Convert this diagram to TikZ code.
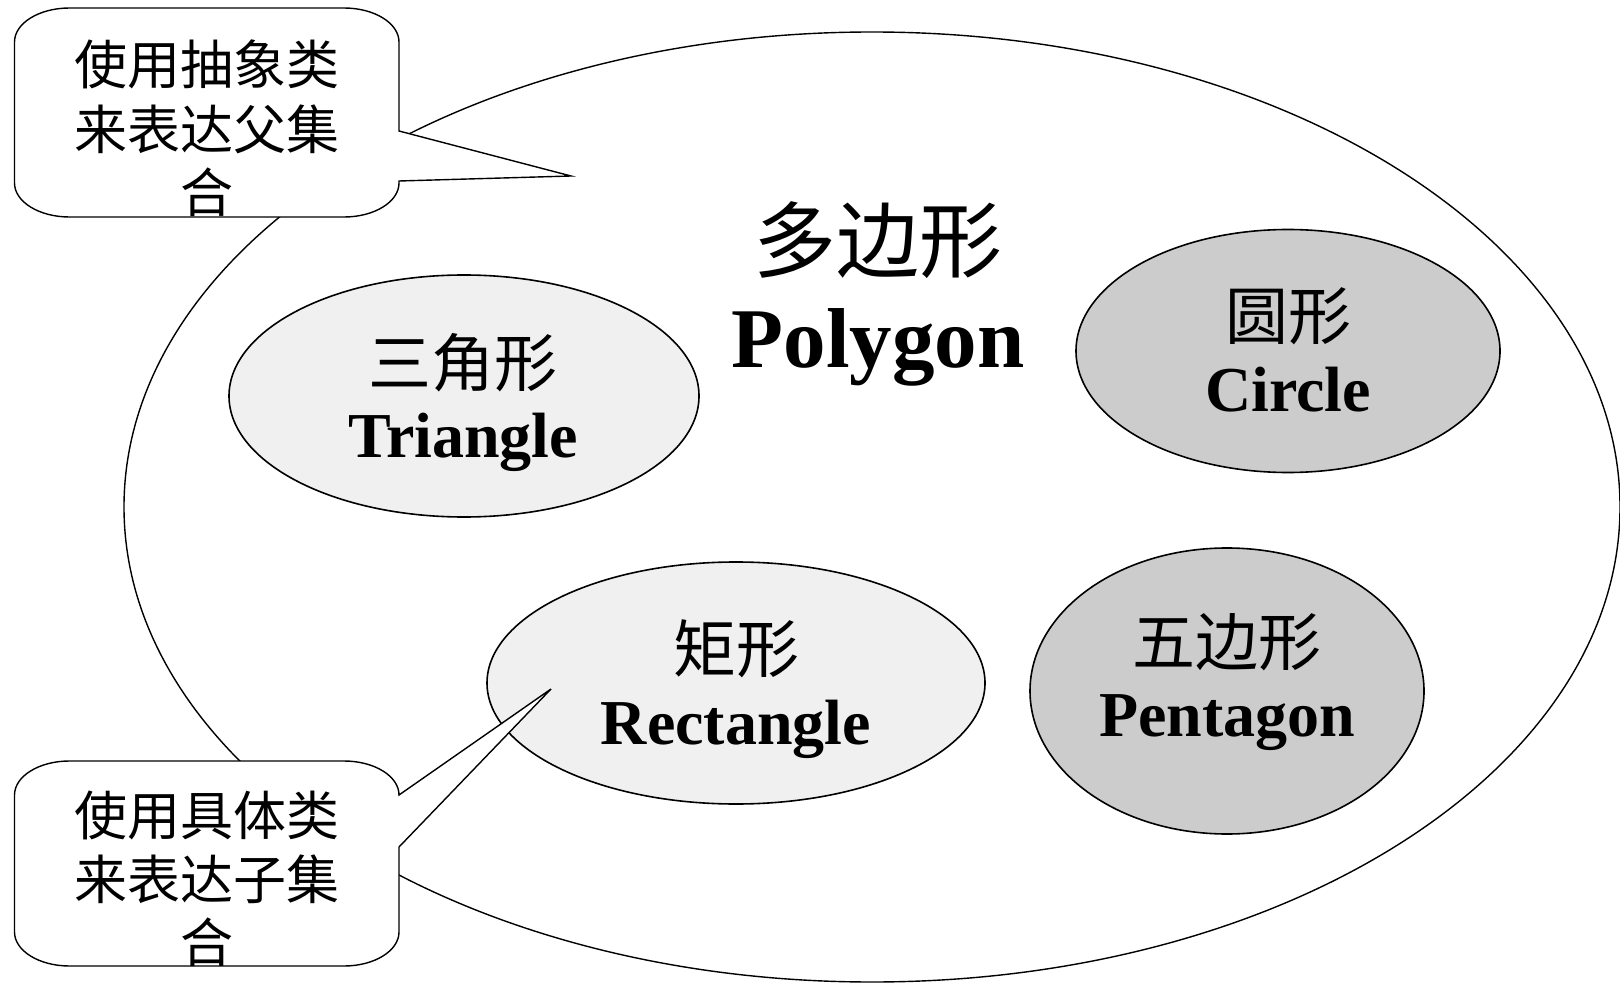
\documentclass[tikz,border=0pt]{standalone}
\usepackage{fontspec}
\setmainfont{Liberation Serif}
\newfontfamily\cjk{Noto Sans CJK SC}
\definecolor{lightfill}{RGB}{240,240,240}
\definecolor{darkfill}{RGB}{204,204,204}
\begin{document}
\begin{tikzpicture}[x=1pt,y=-1pt,
  outer/.style={draw,line width=1.4pt},
  classell/.style={draw,line width=1.6pt},
  cjklabel/.style={inner sep=0pt,anchor=center,font=\cjk\fontsize{63}{63}\selectfont},
  latlabel/.style={inner sep=0pt,anchor=base,font=\bfseries\fontsize{64}{64}\selectfont},
  calltext/.style={inner sep=0pt,anchor=center,font=\cjk\fontsize{53}{53}\selectfont},
  callbox/.style={draw,fill=white,line width=1.4pt,line join=miter}]
\useasboundingbox (0,0) rectangle (1620,984);
% big polygon set
\draw[outer] (872,507) ellipse [x radius=748, y radius=475];
% class ellipses
\draw[classell,fill=lightfill] (464,396) ellipse [x radius=235, y radius=121];
\draw[classell,fill=darkfill] (1288,351) ellipse [x radius=212, y radius=121.5];
\draw[classell,fill=lightfill] (736,683) ellipse [x radius=249, y radius=121];
\draw[classell,fill=darkfill] (1227,691) ellipse [x radius=197, y radius=143];
% texts
\node[inner sep=0pt,anchor=center,font=\cjk\fontsize{83}{83}\selectfont] (polyzh) at (878,240) {多边形};
\node[inner sep=0pt,anchor=base,font=\bfseries\fontsize{85}{85}\selectfont] (polyen) at (878,367) {Polygon};
\node[cjklabel] (trizh) at (463,363) {三角形};
\node[latlabel] (trien) at (463,457) {Triangle};
\node[cjklabel] (cirzh) at (1288,316) {圆形};
\node[latlabel] (ciren) at (1288,411) {Circle};
\node[cjklabel] (reczh) at (736,649) {矩形};
\node[latlabel] (recen) at (736,744) {Rectangle};
\node[cjklabel] (penzh) at (1227,642) {五边形};
\node[latlabel] (penen) at (1227,736) {Pentagon};
% top callout
\coordinate (tiptop) at (571,176);
\path[callbox] (69.5,8) -- (344,8) .. controls (374.4,8) and (399,23.2) .. (399,42)
  -- (399,131) -- (tiptop) -- (399,181)
  -- (399,183) .. controls (399,201.8) and (374.4,217) .. (344,217)
  -- (69.5,217) .. controls (39.1,217) and (14.5,201.8) .. (14.5,183)
  -- (14.5,42) .. controls (14.5,23.2) and (39.1,8) .. (69.5,8) -- cycle;
\node[calltext] (t1a) at (207,64) {使用抽象类};
\node[calltext] (t1b) at (207,129) {来表达父集};
\node[calltext] (t1c) at (207,192) {合};
% bottom callout
\coordinate (tipbot) at (551,689);
\path[callbox] (69.5,761) -- (344,761) .. controls (374.4,761) and (399,776.2) .. (399,795)
  -- (tipbot) -- (399,847)
  -- (399,932) .. controls (399,950.8) and (374.4,966) .. (344,966)
  -- (69.5,966) .. controls (39.1,966) and (14.5,950.8) .. (14.5,932)
  -- (14.5,795) .. controls (14.5,776.2) and (39.1,761) .. (69.5,761) -- cycle;
\node[calltext] (t2a) at (207,815) {使用具体类};
\node[calltext] (t2b) at (207,879) {来表达子集};
\node[calltext] (t2c) at (207,942) {合};
\end{tikzpicture}
\end{document}
